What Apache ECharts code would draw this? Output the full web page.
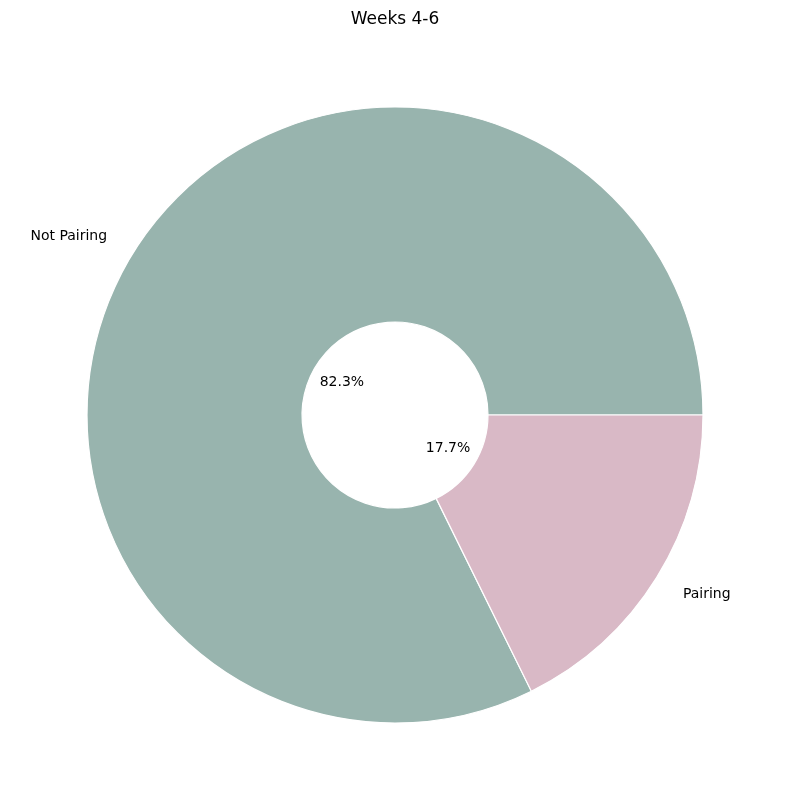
<!DOCTYPE html>
<html>
<head>
<meta charset="utf-8">
<script src="https://cdn.jsdelivr.net/npm/echarts@6/dist/echarts.min.js"></script>
<style>html,body{margin:0;padding:0;background:#fff}#c{width:790px;height:810px}</style>
</head>
<body>
<div id="c"></div>
<script>
const categories = ['Not Pairing', 'Pairing'];
const values = [82.3, 17.7];
const colors = ['#98b4ae', '#d9b9c6'];
const chartTitle = 'Weeks 4-6';

const font = 'DejaVu Sans';
const chart = echarts.init(document.getElementById('c'), null, {renderer: 'canvas'});
const mainData = categories.map((c, i) => ({name: c, value: values[i], itemStyle: {color: colors[i]}}));
const ghostData = categories.map((c, i) => ({name: c, value: values[i]}));
const center = ['50%', 415];
chart.setOption({
  animation: false,
  title: {text: chartTitle, left: 'center', top: 6, textStyle: {fontFamily: font, fontSize: 17, fontWeight: 'normal', color: '#000'}},
  series: [
    {
      type: 'pie', center: center, radius: [93, 308], startAngle: 0, clockwise: false,
      silent: true, data: mainData,
      itemStyle: {borderColor: '#fff', borderWidth: 1.2},
      label: {show: false}, labelLine: {show: false}
    },
    {
      type: 'pie', center: center, radius: [0, 339], startAngle: 0, clockwise: false,
      silent: true, data: ghostData,
      itemStyle: {color: 'rgba(0,0,0,0)'},
      label: {show: true, position: 'outside', formatter: '{b}', fontFamily: font, fontSize: 14, color: '#000', distanceToLabelLine: 0},
      labelLine: {show: false, length: 0, length2: 0},
      labelLayout: {hideOverlap: false}
    },
    {
      type: 'pie', center: center, radius: [0, 119], startAngle: 0, clockwise: false,
      silent: true, data: ghostData,
      itemStyle: {color: 'rgba(0,0,0,0)'},
      label: {show: true, position: 'inside', formatter: p => p.value.toFixed(1) + '%', fontFamily: font, fontSize: 14, color: '#000'},
      labelLine: {show: false}
    }
  ]
});
</script>
</body>
</html>
